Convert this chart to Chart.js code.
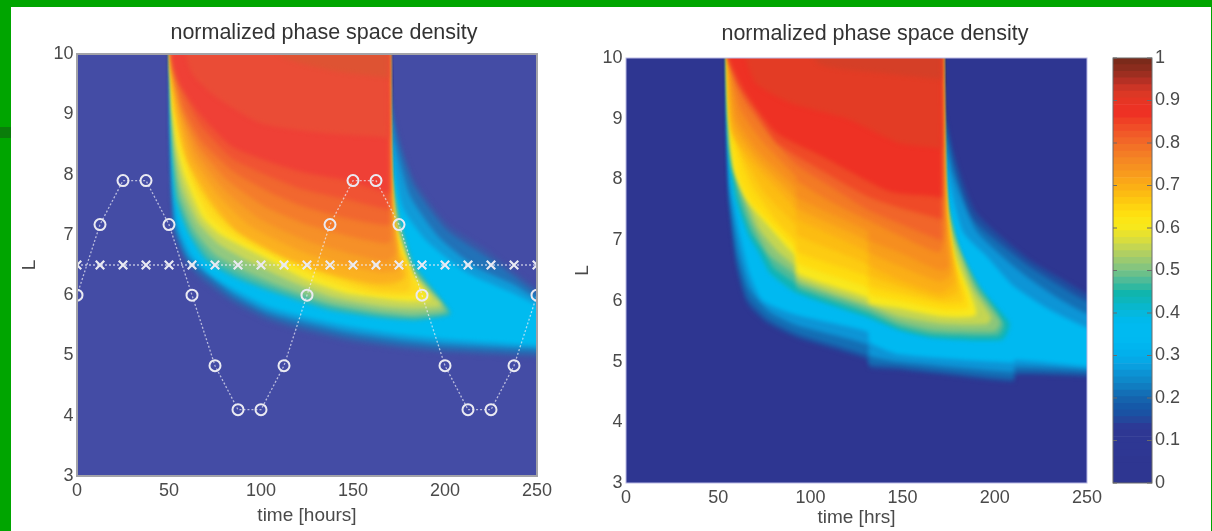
<!DOCTYPE html>
<html>
<head>
<meta charset="utf-8">
<title>normalized phase space density</title>
<script src="https://cdn.jsdelivr.net/npm/chart.js@4"></script>
<style>
html, body { margin: 0; padding: 0; background: #fff; overflow: hidden; }
#page { position: relative; width: 1212px; height: 531px; background: #fff; }
.bar { position: absolute; background: #00a500; }
canvas { position: absolute; top: 0; filter: blur(0.5px); }
</style>
</head>
<body>
<div id="page">
  <div class="bar" style="left:0;top:0;width:1212px;height:7px"></div>
  <div class="bar" style="left:0;top:0;width:11px;height:531px"></div>
  <div class="bar" style="left:0;top:127px;width:11px;height:11px;background:#0a7d0a"></div>
  <div class="bar" style="left:1211px;top:0;width:1px;height:531px"></div>
  <canvas id="leftChart" width="648" height="531" style="left:0"></canvas>
  <canvas id="rightChart" width="610" height="531" style="left:570px"></canvas>
  <canvas id="colorbar" width="112" height="531" style="left:1100px"></canvas>
</div>
<script>
const chartTitle = 'normalized phase space density';
const timeTicks = [0, 50, 100, 150, 200, 250];
const lTicks = [3, 4, 5, 6, 7, 8, 9, 10];

// spacecraft tracks in the left panel
const trackTimes = [0, 12.5, 25, 37.5, 50, 62.5, 75, 87.5, 100, 112.5, 125, 137.5, 150, 162.5, 175, 187.5, 200, 212.5, 225, 237.5, 250];
const circleL = [6, 7.17, 7.9, 7.9, 7.17, 6, 4.83, 4.1, 4.1, 4.83, 6, 7.17, 7.9, 7.9, 7.17, 6, 4.83, 4.1, 4.1, 4.83, 6];
const crossL = [6.5, 6.5, 6.5, 6.5, 6.5, 6.5, 6.5, 6.5, 6.5, 6.5, 6.5, 6.5, 6.5, 6.5, 6.5, 6.5, 6.5, 6.5, 6.5, 6.5, 6.5];

// density levels of the contours
const levels = [0.12, 0.17, 0.21, 0.26, 0.31, 0.43, 0.47, 0.51, 0.55, 0.6, 0.625, 0.65, 0.675, 0.7, 0.725, 0.75, 0.775, 0.8, 0.83, 0.86, 0.89, 0.92];
const leftColors = ['#444ca5', '#3a58a8', '#2272b8', '#109bd8', '#00bbf0', '#2bb7b8', '#5cbe9c', '#92c980', '#c8d758', '#f9e826', '#fddb1e', '#fdcc1c', '#fcbe1c', '#fbb020', '#f8a024', '#f69028', '#f47c2b', '#f1672f', '#f05333', '#ef4036', '#ea4c36', '#de5333'];
const rightColors = ['#2e3691', '#1f4fa0', '#146fb5', '#0d95d6', '#00b9f1', '#10b4b5', '#4fbb98', '#8cc67a', '#c4d552', '#f9e81d', '#fedb10', '#fdcb12', '#fcbc12', '#fbae17', '#f89e1b', '#f68e1f', '#f37a25', '#f1652a', '#ef4a27', '#ee3124', '#e33c25', '#d53f27'];

// one [time, L] outline per level, left panel
const leftContours = [
  [[-5,2],[255,2],[255,11],[-5,11]],
  [[51,10.5],[51,8.3],[51.5,7.58],[53,7],[59,6.53],[67,6.25],[85,5.85],[103,5.57],[121,5.4],[150,5.2],[175,5.1],[201,5.03],[250,4.95],[260,4.93],[260,5.95],[250,6.12],[237,6.42],[223,6.75],[201,7.2],[183,7.95],[174,8.75],[169.5,9.5],[169,10.5]],
  [[51,10.5],[51,8.6],[51.8,7.6],[53.5,7.05],[60,6.58],[68,6.32],[85,5.93],[103,5.65],[121,5.48],[150,5.28],[175,5.17],[201,5.1],[250,5.02],[260,5],[260,5.85],[250,6.03],[237,6.32],[223,6.63],[201,7.08],[183,7.82],[174,8.6],[169.5,9.4],[169,10.5]],
  [[51.2,10.5],[51.2,8.8],[52,7.7],[54,7.1],[60.5,6.62],[69,6.4],[85,6.02],[103,5.73],[121,5.57],[150,5.37],[175,5.26],[201,5.18],[250,5.1],[260,5.08],[260,5.75],[250,5.93],[237,6.18],[216,6.48],[197,6.95],[181,7.65],[173,8.5],[169.5,9.35],[169,10.5]],
  [[51.2,10.5],[51.3,9],[52.3,7.9],[54.5,7.2],[62,6.68],[72,6.36],[85,6.1],[103,5.82],[121,5.66],[150,5.47],[175,5.35],[201,5.27],[250,5.17],[260,5.15],[260,5.7],[250,5.83],[237,6.03],[212,6.37],[190,6.9],[177,7.46],[170.5,8.57],[169.3,9.3],[169,10.5]],
  [[51.2,10.5],[51.4,9.6],[51.6,8.6],[52.4,8.1],[54,7.55],[61,7],[70,6.58],[85,6.3],[103,6.08],[137,5.75],[165,5.62],[183,5.58],[203,5.68],[200,5.85],[183,6.53],[175,7.3],[170.2,8.3],[169.3,9],[169,10.5]],
  [[51.2,10.5],[51.4,9.7],[51.7,8.8],[52.8,8.2],[55,7.6],[62,7.04],[72,6.62],[87,6.35],[106,6.12],[137,5.82],[165,5.67],[183,5.63],[202,5.71],[198,5.87],[182,6.5],[174.5,7.25],[170.2,8.1],[169.3,9],[169,10.5]],
  [[51.2,10.5],[51.4,9.8],[51.8,9],[53,8.25],[56,7.65],[64,7.08],[75,6.68],[90,6.42],[110,6.16],[137,5.88],[165,5.73],[183,5.68],[200,5.74],[197,5.9],[182,6.45],[174.5,7.2],[170.2,8],[169.3,9],[169,10.5]],
  [[51.2,10.5],[51.4,9.9],[51.8,9.3],[53.5,8.4],[57,7.8],[66,7.2],[77,6.85],[96,6.52],[117,6.22],[140,5.96],[165,5.82],[183,5.78],[198,5.82],[194,5.97],[181,6.42],[174,7.15],[170.2,7.9],[169.3,8.9],[169,10.5]],
  [[51.2,10.5],[51.5,9.7],[52.2,9],[54,8.5],[58,8],[68,7.3],[78,7],[103,6.6],[125,6.25],[146,6.03],[165,5.95],[180,5.9],[192,5.93],[183,6.3],[179,6.6],[173,7.1],[170.2,7.8],[169.3,8.8],[169,10.5]],
  [[51.2,10.5],[51.5,9.7],[52.6,9.05],[56,8.47],[62,7.9],[72,7.3],[86,6.95],[109,6.6],[132,6.28],[155,6.05],[173,5.99],[187,6.02],[182,6.35],[178,6.65],[172,7.2],[170.2,7.9],[169.3,8.9],[169,10.5]],
  [[51.2,10.5],[51.5,9.7],[53,9.1],[58,8.45],[66,7.8],[78,7.3],[95,6.9],[115,6.6],[140,6.3],[163,6.08],[180,6.08],[181,6.4],[176,6.7],[171.5,7.3],[170,8],[169.3,9],[169,10.5]],
  [[51.2,10.5],[51.5,9.7],[54,9.03],[59.5,8.32],[70,7.67],[83,7.17],[105,6.75],[128,6.45],[152,6.24],[171,6.17],[179,6.33],[175.5,6.65],[171.5,7.28],[170,8],[169.3,9],[169,10.5]],
  [[51.2,10.5],[51.6,9.7],[55,8.95],[61,8.2],[74,7.55],[88,7.05],[116,6.6],[140,6.35],[163,6.2],[177,6.28],[175,6.6],[171.5,7.25],[170,8],[169.3,9],[169,10.5]],
  [[51.2,10.5],[51.8,9.7],[56,8.97],[63,8.27],[77,7.65],[94,7.15],[120,6.75],[145,6.5],[166,6.37],[175,6.42],[174,6.65],[171.5,7.3],[170,8.1],[169,10.5]],
  [[51.2,10.5],[52.2,9.7],[57,9],[65,8.35],[80,7.75],[100,7.25],[125,6.9],[150,6.68],[168,6.56],[173,6.7],[171,7.4],[169.8,8.2],[169,10.5]],
  [[51.2,10.5],[52.2,9.75],[57.5,9.05],[66.5,8.45],[82,7.9],[102,7.47],[125,7.17],[150,6.96],[167,6.86],[170.5,6.9],[170.5,7.3],[169.6,8.2],[169,10.5]],
  [[51.2,10.5],[52.4,9.8],[58,9.1],[68,8.55],[85,8.05],[105,7.7],[125,7.45],[150,7.25],[167,7.16],[170,7.18],[169.5,8.3],[169,10.5]],
  [[51.2,10.5],[51.8,10],[54,9.65],[62,9.1],[68,8.78],[85,8.25],[121,7.77],[148,7.58],[166,7.44],[169.5,7.42],[169,10.5]],
  [[51.2,10.5],[51.8,9.9],[56,9.5],[67,9],[85,8.45],[121,8.05],[147,7.9],[166,7.72],[169.5,7.7],[169,10.5]],
  [[56,10.5],[62,9.7],[75,9.3],[100,8.85],[130,8.7],[166,8.62],[169,8.6],[169,10.5]],
  [[100,10.5],[112,9.95],[140,9.72],[166,9.62],[169,9.6],[169,10.5]]
];

// same levels, right panel
const rightContours = [
  [[-5,2],[255,2],[255,11],[-5,11]],
  [[55,10.5],[55,8.9],[55.3,8.49],[56,7.66],[60,6.56],[65.5,5.96],[76.5,5.63],[92.7,5.39],[131,5.03],[132,4.9],[148,4.86],[210,4.66],[211,4.78],[250,4.75],[260,4.74],[260,6],[249,6.13],[234,6.4],[217,6.72],[190,7.45],[179,8.3],[171.5,9.3],[170.8,10.5]],
  [[55,10.5],[55.2,8.9],[55.6,8.3],[56.4,7.6],[60.5,6.62],[66.5,6.03],[77,5.7],[92.7,5.46],[131,5.1],[132,4.96],[148,4.92],[210,4.72],[211,4.83],[250,4.8],[260,4.79],[260,5.88],[249,6],[234,6.27],[217,6.6],[188,7.35],[178,8.2],[171.5,9.2],[170.8,10.5]],
  [[55.2,10.5],[55.4,8.7],[56.5,7.75],[61,6.8],[67,6.2],[78,5.82],[92.7,5.6],[131,5.28],[132,5.1],[148,5],[210,4.83],[211,4.92],[250,4.87],[260,4.85],[260,5.7],[249,5.8],[234,6.05],[215,6.45],[190,7.15],[177,8.1],[171.5,9],[170.8,10.5]],
  [[55.2,10.5],[55.6,8.6],[56.8,7.9],[62,7.05],[67,6.45],[74,6.01],[92,5.77],[131,5.49],[132,5.32],[148,5.12],[210,4.98],[211,5.03],[250,4.92],[260,4.9],[260,5.45],[249,5.57],[230,5.85],[210,6.25],[196,6.72],[183,7.12],[176,7.88],[172,8.77],[170.8,10.5]],
  [[55.2,10.5],[55.7,8.9],[56.5,8.3],[60,7.65],[67,7.05],[72,6.8],[78,6.46],[92.7,6.13],[131,5.73],[148,5.52],[167,5.39],[204,5.36],[208,5.63],[192,6.2],[181,6.8],[174,7.66],[171.8,8.6],[170.8,10.5]],
  [[55.2,10.5],[55.6,9.5],[55.8,9],[56.9,8.4],[61,7.7],[68,7.12],[74,6.85],[80,6.55],[92,6.28],[93,6.2],[131,5.8],[148,5.57],[167,5.44],[202,5.43],[205,5.62],[191,6.25],[180,6.9],[174,7.6],[171.8,8.5],[170.8,10.5]],
  [[55.2,10.5],[55.6,9.6],[55.8,9.1],[57.2,8.45],[62,7.78],[69,7.22],[78,6.75],[92,6.42],[93,6.28],[131,5.88],[148,5.65],[167,5.52],[200,5.5],[203,5.65],[190,6.2],[179,6.95],[174,7.55],[171.8,8.4],[170.8,10.5]],
  [[55.2,10.5],[55.6,9.7],[55.8,9.2],[57.6,8.5],[63,7.85],[72,7.2],[82,6.82],[92,6.55],[93,6.36],[131,5.95],[148,5.75],[172,5.62],[196,5.62],[198,5.73],[188,6.2],[178,7],[174,7.5],[171.8,8.3],[170.8,10.5]],
  [[55.2,10.5],[55.7,9.4],[58,8.2],[65.6,7.66],[87,6.89],[92,6.72],[93,6.45],[131,6.05],[132,5.96],[148,5.88],[172,5.74],[190,5.78],[179,6.67],[175,7.12],[172.5,7.88],[170.8,10.5]],
  [[55.2,10.5],[55.7,9.45],[57.2,8.6],[61,8.05],[68,7.62],[85,7.08],[92,6.85],[93,6.62],[131,6.22],[132,6.1],[148,6],[172,5.85],[186,5.89],[178,6.68],[174.5,7.2],[172.3,7.95],[170.8,10.5]],
  [[55.2,10.5],[55.8,9.5],[57.2,8.95],[61,8.45],[68,7.9],[82,7.3],[92,6.98],[93,6.8],[131,6.4],[132,6.25],[148,6.12],[172,5.96],[183,6],[177,6.7],[174,7.3],[172,8],[170.8,10.5]],
  [[55.2,10.5],[55.9,9.5],[57.6,8.85],[65,8.3],[76,7.75],[92,7.24],[93,7.08],[131,6.6],[132,6.42],[148,6.24],[171,6.04],[180,6.15],[176.5,6.8],[174,7.34],[172,8.1],[170.8,10.5]],
  [[55.2,10.5],[56,9.5],[58,8.76],[71,8.2],[92,7.5],[93,7.35],[131,6.8],[132,6.6],[148,6.35],[170,6.13],[178,6.3],[176,6.9],[174,7.38],[172,8.2],[170.8,10.5]],
  [[55.2,10.5],[56.3,9.6],[59,8.88],[71.5,8.32],[92,7.68],[93,7.52],[131,6.98],[132,6.8],[148,6.58],[170,6.32],[176,6.42],[175,6.95],[173,7.45],[170.8,10.5]],
  [[55.2,10.5],[56.7,9.7],[60,9],[72,8.45],[92,7.85],[93,7.7],[131,7.15],[132,7],[148,6.8],[170,6.5],[175,6.55],[172.5,7.5],[170.8,10.5]],
  [[55.2,10.5],[57,9.75],[62,9.15],[74,8.62],[92,8.05],[93,7.97],[110,7.65],[131,7.33],[150,7.05],[170,6.8],[173,7.2],[170.8,10.5]],
  [[55.2,10.5],[55.8,10],[58,9.8],[64,9.3],[76,8.8],[92,8.25],[110,7.9],[131,7.5],[150,7.25],[168,7.03],[171,7],[170.8,10.5]],
  [[55.2,10.5],[55.8,10],[61,9.55],[72,9.05],[82,8.6],[107,8.13],[131,7.72],[150,7.52],[168,7.37],[171,7.35],[170.8,10.5]],
  [[55.2,10.5],[55.8,10],[65.6,9.4],[82,8.76],[107,8.37],[143,7.8],[168,7.72],[171,7.7],[170.8,10.5]],
  [[60,10.5],[70,9.6],[90,9.25],[120,9],[148,8.6],[168,8.52],[170.8,8.5],[170.8,10.5]],
  [[95,10.5],[105,9.9],[140,9.75],[168,9.66],[170.8,9.65],[170.8,10.5]]
];

// colorbar bands, bottom to top, and their ticks
const colorbarBands = ['#2e3691', '#2e3691', '#2e3691', '#2e3691', '#2e3793', '#2e3793', '#2e3793', '#2e3793',
  '#2c3a96', '#24479c', '#1a52a3', '#1559a8', '#1563ad', '#136fb6', '#107dc1', '#0e89ca',
  '#0c93d4', '#099fdf', '#05a9e7', '#02b0ec', '#00b5ef', '#00b9f1', '#00baf1', '#00baf0',
  '#00b9ec', '#05b8de', '#09b7cd', '#0db6bc', '#10b5ad', '#30b8a0', '#4fbb98', '#6bc08a',
  '#86c57e', '#9bca70', '#b0cf62', '#c4d652', '#d8dd3e', '#e8e22d', '#f7e81c', '#fbe616',
  '#fedf10', '#fed410', '#fdc810', '#fcbc12', '#fbb015', '#faa619', '#f89b1d', '#f69120',
  '#f58823', '#f47d25', '#f37226', '#f26628', '#f15a28', '#f04d27', '#ef4025', '#ee3124',
  '#ec3224', '#e63524', '#dc3825', '#cc3526', '#b53024', '#9d2e20', '#8a2c1d', '#7b2a1a'];
const bandHeight = [0.015625];
const colorbarTicks = [0, 0.1, 0.2, 0.3, 0.4, 0.5, 0.6, 0.7, 0.8, 0.9, 1];

const fontFamily = '"Liberation Sans", Arial, sans-serif';
const textColor = '#4a4a4a';

// box round the plot, the axes themselves only draw two sides
const frameBox = {
  id: 'frameBox',
  afterDatasetsDraw(chart, args, opts) {
    const a = chart.chartArea;
    const ctx = chart.ctx;
    ctx.save();
    ctx.filter = 'none';
    ctx.strokeStyle = opts.color;
    ctx.lineWidth = opts.width;
    ctx.strokeRect(a.left, a.top, a.right - a.left, a.bottom - a.top);
    // inward tick marks, colorbar only
    if (opts.ticks) {
      const y = chart.scales.y;
      y.ticks.forEach(function(t, i) {
        const py = y.getPixelForTick(i);
        ctx.beginPath();
        ctx.moveTo(a.left, py);
        ctx.lineTo(a.left + 4, py);
        ctx.moveTo(a.right - 5, py);
        ctx.lineTo(a.right, py);
        ctx.stroke();
      });
    }
    ctx.restore();
  }
};

// soft edges between contour levels, off again for the tracks
const softContours = {
  id: 'softContours',
  beforeDatasetsDraw(chart) { chart.ctx.filter = 'blur(2px)'; },
  beforeDatasetDraw(chart, args) {
    if (chart.data.datasets[args.index].isTrack) chart.ctx.filter = 'none';
  },
  afterDatasetsDraw(chart) { chart.ctx.filter = 'none'; }
};

function contourDatasets(contours, colors) {
  // highest level goes first, Chart.js paints the first dataset last
  return contours.map(function(outline, i) {
    return {
      label: 'level ' + levels[i],
      data: outline.map(function(p) { return { x: p[0], y: p[1] }; }),
      showLine: true,
      fill: 'shape',
      tension: 0.2,
      borderWidth: 0,
      borderColor: 'transparent',
      backgroundColor: colors[i],
      pointRadius: 0
    };
  }).reverse();
}

function trackDataset(values, style, size, width) {
  return {
    label: style,
    isTrack: true,
    data: values.map(function(v, i) { return { x: trackTimes[i], y: v }; }),
    showLine: true,
    fill: false,
    borderColor: 'rgba(235,235,245,0.7)',
    borderWidth: 1.3,
    borderDash: [2, 2],
    pointStyle: style,
    pointRadius: size,
    pointBorderColor: '#eaeaf2',
    pointBorderWidth: width,
    pointBackgroundColor: 'transparent'
  };
}

function mapOptions(xTitle, yWidth, rightGap, bottomEdge, topPad, titlePad, frameColor, frameWidth, xTitleBottom, yTitleTop) {
  return {
    responsive: false,
    animation: false,
    events: [],
    layout: { padding: { left: 0, right: 0, top: topPad, bottom: 0 } },
    plugins: {
      legend: { display: false },
      tooltip: { enabled: false },
      title: {
        display: true,
        text: chartTitle,
        color: '#333',
        font: { family: fontFamily, size: 21.5, weight: 'normal', lineHeight: 21 / 21.5 },
        padding: titlePad
      },
      frameBox: { color: frameColor, width: frameWidth }
    },
    scales: {
      x: {
        type: 'linear',
        min: 0,
        max: 250,
        afterBuildTicks(s) { s.ticks = timeTicks.map(function(v) { return { value: v }; }); },
        afterFit(s) { s.height = 531 - bottomEdge; },
        grid: { display: false, drawTicks: false },
        border: { display: false },
        ticks: { color: textColor, font: { family: fontFamily, size: 18 }, maxRotation: 0, padding: 4 },
        title: { display: true, text: xTitle, color: textColor, font: { family: fontFamily, size: 19 }, padding: { top: 2, bottom: xTitleBottom } }
      },
      y: {
        type: 'linear',
        min: 3,
        max: 10,
        afterBuildTicks(s) { s.ticks = lTicks.map(function(v) { return { value: v }; }); },
        afterFit(s) { s.width = yWidth; },
        grid: { display: false, drawTicks: false },
        border: { display: false },
        ticks: { color: textColor, font: { family: fontFamily, size: 18 }, padding: 3.5 },
        title: { display: true, text: 'L', color: textColor, font: { family: fontFamily, size: 19 }, padding: { top: yTitleTop, bottom: 0 } }
      },
      // empty axis that only holds the space right of the plot
      gap: {
        type: 'linear',
        position: 'right',
        afterFit(s) { s.width = rightGap; },
        grid: { display: false },
        border: { display: false },
        ticks: { display: false }
      }
    }
  };
}

new Chart(document.getElementById('leftChart'), {
  type: 'scatter',
  data: {
    datasets: [
      trackDataset(circleL, 'circle', 5.5, 2),
      trackDataset(crossL, 'crossRot', 6, 2.2)
    ].concat(contourDatasets(leftContours, leftColors))
  },
  options: mapOptions('time [hours]', 77, 111, 476, 0, { top: 23, bottom: 10 }, '#a3a3a8', 2, 3.6, 18),
  plugins: [softContours, frameBox]
});

new Chart(document.getElementById('rightChart'), {
  type: 'scatter',
  data: { datasets: contourDatasets(rightContours, rightColors) },
  options: mapOptions('time [hrs]', 56, 93, 483, 4, { top: 20, bottom: 13 }, '#b9b9e4', 1, 1.6, 1.6),
  plugins: [softContours, frameBox]
});

new Chart(document.getElementById('colorbar'), {
  type: 'bar',
  data: {
    labels: ['density'],
    datasets: colorbarBands.map(function(c, i) {
      return { label: 'band ' + i, data: bandHeight, backgroundColor: c, barPercentage: 1, categoryPercentage: 1 };
    })
  },
  options: {
    responsive: false,
    animation: false,
    events: [],
    layout: { padding: { left: 13, right: 0, top: 58, bottom: 48 } },
    plugins: {
      legend: { display: false },
      tooltip: { enabled: false },
      frameBox: { color: '#6b6b6b', width: 1, ticks: true }
    },
    scales: {
      x: { stacked: true, display: false },
      y: {
        stacked: true,
        position: 'right',
        min: 0,
        max: 1,
        afterBuildTicks(s) { s.ticks = colorbarTicks.map(function(v) { return { value: v }; }); },
        afterFit(s) { s.width = 60; },
        grid: { display: false, drawTicks: false },
        border: { display: false },
        ticks: { color: textColor, font: { family: fontFamily, size: 18 }, padding: 3, callback: function(v) { return String(v); } }
      }
    }
  },
  plugins: [frameBox]
});
</script>
</body>
</html>
